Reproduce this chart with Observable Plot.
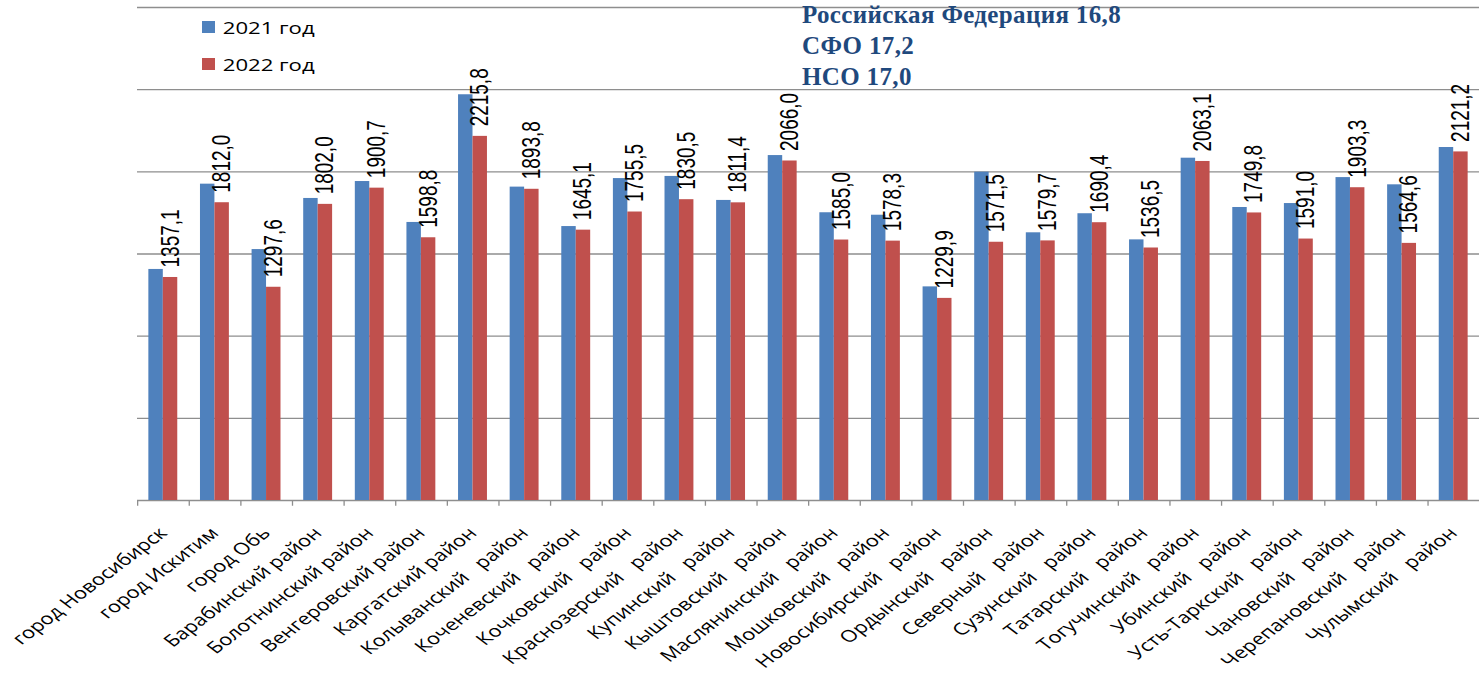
<!DOCTYPE html>
<html><head><meta charset="utf-8">
<script src="https://cdn.jsdelivr.net/npm/d3@7"></script>
<script src="https://cdn.jsdelivr.net/npm/@observablehq/plot@0.6"></script>
<style>
body{margin:0;background:#fff;}
#wrap{position:relative;width:1479px;height:673px;overflow:hidden;}
#wrap svg text{white-space:pre;}
.leg{position:absolute;left:202px;font-family:"Open Sans",sans-serif;font-size:17px;color:#000;transform:scaleX(1.3);transform-origin:left center;display:flex;align-items:center;height:20px;}
.leg span.sw{display:inline-block;width:10px;height:12px;margin-right:6px;}
.note{position:absolute;left:802px;top:-1px;font-family:"Liberation Serif","Times New Roman",serif;font-weight:bold;font-size:25px;line-height:31px;letter-spacing:0.35px;color:#1F497D;white-space:pre;}
</style></head>
<body><div id="wrap"></div>
<script>
const categories = ["город Новосибирск","город Искитим","город Обь","Барабинский район","Болотнинский район","Венгеровский район","Каргатский район","Колыванский   район","Коченевский   район","Кочковский   район","Краснозерский   район","Купинский   район","Кыштовский   район","Маслянинский   район","Мошковский   район","Новосибирский   район","Ордынский   район","Северный   район","Сузунский   район","Татарский   район","Тогучинский   район","Убинский   район","Усть-Таркский   район","Чановский   район","Черепановский   район","Чулымский   район"];
const values2021 = [1406,1925,1527,1838,1941,1692,2469,1907,1667,1959,1972,1826,2099,1751,1736,1300,1998,1629,1745,1586,2083,1783,1807,1965,1921,2148];
const values2022 = [1357.1,1812.0,1297.6,1802.0,1900.7,1598.8,2215.8,1893.8,1645.1,1755.5,1830.5,1811.4,2066.0,1585.0,1578.3,1229.9,1571.5,1579.7,1690.4,1536.5,2063.1,1749.8,1591.0,1903.3,1564.6,2121.2];
const seriesNames = ["2021 год","2022 год"];
const seriesColors = ["#4F81BD","#C0504D"];
const yTicks = [0,500,1000,1500,2000,2500,3000];
const notes = ["Российская Федерация 16,8","СФО 17,2","НСО 17,0"];

const W = 1479, H = 673, mL = 137, mR = 0, mT = 7, mB = 173;
const stretch = 1.32;
const step = (W - mL - mR) / categories.length;
const rows2021 = categories.map((c, i) => ({category: c, value: values2021[i]}));
const rows2022 = categories.map((c, i) => ({category: c, value: values2022[i]}));
const fmt = v => v.toFixed(1).replace(".", ",");

const chart = Plot.plot({
  width: W, height: H,
  marginLeft: mL, marginRight: mR, marginTop: mT, marginBottom: mB,
  style: {fontFamily: "'Open Sans', sans-serif", fontSize: "16.5px", color: "#000", background: "transparent", overflow: "visible"},
  x: {domain: categories, padding: 0, round: false, tickSize: 0, tickRotate: -37, tickPadding: 30, label: null},
  y: {domain: [yTicks[0], yTicks[yTicks.length - 1]], axis: null},
  marks: [
    Plot.ruleY(yTicks, {stroke: "#8e8e8e", strokeWidth: 1.4}),
    Plot.barY(categories, {x: d => d, y1: 0, y2: -35, fill: "#8e8e8e", insetLeft: 0, insetRight: step - 1.3}),
    Plot.barY(rows2021, {x: "category", y: "value", fill: seriesColors[0], insetLeft: 0.22 * step, insetRight: 0.5 * step}),
    Plot.barY(rows2022, {x: "category", y: "value", fill: seriesColors[1], insetLeft: 0.5 * step, insetRight: 0.22 * step}),
    Plot.text(rows2022, {x: "category", y: "value", text: d => fmt(d.value), rotate: -90, textAnchor: "start", dy: -10, dx: 0.14 * step, fontSize: 19, fontFamily: "'Liberation Sans', Arial, sans-serif", fill: "#000", ariaLabel: "value labels"})
  ]
});
const wrap = document.getElementById("wrap");
wrap.appendChild(chart);

// emulate the horizontally stretched look of the original picture
d3.select(chart).selectAll("text").each(function() {
  const t = this.getAttribute("transform");
  if (!t) return;
  if (/rotate\(-37/.test(t)) this.setAttribute("transform", t.replace(/rotate\([^)]*\)/, `scale(${stretch},1) rotate(-45)`));
  else if (/rotate\(-90/.test(t)) this.setAttribute("transform", t.replace(/rotate\([^)]*\)/, `scale(${stretch},1) rotate(-90)`));
});

seriesNames.forEach((name, i) => {
  const d = document.createElement("div");
  d.className = "leg";
  d.style.top = (17 + i * 37) + "px";
  const sw = document.createElement("span");
  sw.className = "sw";
  sw.style.background = seriesColors[i];
  d.appendChild(sw);
  d.appendChild(document.createTextNode(name));
  wrap.appendChild(d);
});
const note = document.createElement("div");
note.className = "note";
note.textContent = notes.join("\n");
wrap.appendChild(note);
</script>
</body></html>
